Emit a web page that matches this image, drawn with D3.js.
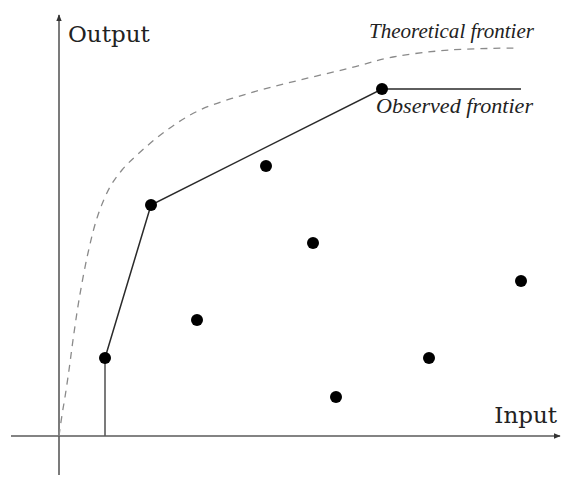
<!DOCTYPE html>
<html>
<head>
<meta charset="utf-8">
<script src="https://cdn.jsdelivr.net/npm/d3@7"></script>
<style>
  html, body { margin: 0; padding: 0; background: #fff; }
  svg { display: block; }
</style>
</head>
<body>
<svg id="chart" width="563" height="477"></svg>
<script>
// Observed decision units (input, output)
const unitInput  = [0.92, 1.84, 4.14, 5.08, 2.76, 5.54, 7.40, 9.24, 6.46];
const unitOutput = [1.56, 4.62, 5.40, 3.86, 2.32, 0.78, 1.56, 3.10, 6.94];

// Piecewise-linear observed frontier
const observedInput  = [0.92, 0.92, 1.84, 6.46, 9.24];
const observedOutput = [0.00, 1.56, 4.62, 6.94, 6.94];

// Smooth theoretical frontier
const theoryInput  = [0, 0.06, 0.12, 0.20, 0.28, 0.40, 0.58, 0.78, 1.02, 1.26, 1.56, 2.16, 2.82, 3.82, 4.82, 5.82, 6.68, 7.82, 9.16];
const theoryOutput = [0, 0.42, 0.78, 1.32, 1.92, 2.72, 3.66, 4.42, 4.98, 5.32, 5.62, 6.12, 6.52, 6.86, 7.12, 7.36, 7.58, 7.72, 7.76];

const labels = {
  xAxis: "Input",
  yAxis: "Output",
  theory: "Theoretical frontier",
  observed: "Observed frontier"
};

const svg = d3.select("#chart");

const x = d3.scaleLinear().domain([0, 10]).range([59, 559]);
const y = d3.scaleLinear().domain([0, 8]).range([436, 36]);

// Axes with arrowheads
const defs = svg.append("defs");
defs.append("marker")
  .attr("id", "arrow")
  .attr("viewBox", "0 0 10 10")
  .attr("refX", 9).attr("refY", 5)
  .attr("markerWidth", 7).attr("markerHeight", 7)
  .attr("markerUnits", "userSpaceOnUse")
  .attr("orient", "auto")
  .append("path")
  .attr("d", "M0,1 L10,5 L0,9 Z")
  .attr("fill", "#333");

const axisColor = "#5a5a5a";
svg.append("line")
  .attr("x1", x(-0.96)).attr("y1", y(0))
  .attr("x2", x(10.02)).attr("y2", y(0))
  .attr("stroke", axisColor).attr("stroke-width", 1.6)
  .attr("marker-end", "url(#arrow)");
svg.append("line")
  .attr("x1", x(0)).attr("y1", y(-0.78))
  .attr("x2", x(0)).attr("y2", y(8.42))
  .attr("stroke", axisColor).attr("stroke-width", 1.6)
  .attr("marker-end", "url(#arrow)");

// Theoretical frontier (dashed)
const theoryPts = theoryInput.map((d, i) => [d, theoryOutput[i]]);
svg.append("path")
  .datum(theoryPts)
  .attr("fill", "none")
  .attr("stroke", "#8a8a8a")
  .attr("stroke-width", 1.3)
  .attr("stroke-dasharray", "7,6")
  .attr("d", d3.line().x(d => x(d[0])).y(d => y(d[1])).curve(d3.curveCatmullRom.alpha(0.5)));

// Observed frontier
const obsPts = observedInput.map((d, i) => [d, observedOutput[i]]);
svg.append("path")
  .datum(obsPts.slice(0, 2))
  .attr("fill", "none")
  .attr("stroke", "#5a5a5a")
  .attr("stroke-width", 1.6)
  .attr("d", d3.line().x(d => x(d[0])).y(d => y(d[1])));
svg.append("path")
  .datum(obsPts.slice(1))
  .attr("fill", "none")
  .attr("stroke", "#2a2a2a")
  .attr("stroke-width", 1.5)
  .attr("d", d3.line().x(d => x(d[0])).y(d => y(d[1])));

// Units
svg.selectAll("circle.unit")
  .data(unitInput.map((d, i) => [d, unitOutput[i]]))
  .join("circle")
  .attr("class", "unit")
  .attr("cx", d => x(d[0]))
  .attr("cy", d => y(d[1]))
  .attr("r", 6)
  .attr("fill", "#000");

// Labels
svg.append("text")
  .attr("x", 68).attr("y", 42)
  .attr("font-family", "DejaVu Serif")
  .attr("font-size", 23)
  .attr("fill", "#222")
  .text(labels.yAxis);
svg.append("text")
  .attr("x", 557).attr("y", 423)
  .attr("text-anchor", "end")
  .attr("font-family", "DejaVu Serif")
  .attr("font-size", 23)
  .attr("fill", "#222")
  .text(labels.xAxis);
svg.append("text")
  .attr("x", 369).attr("y", 38)
  .attr("font-family", "Liberation Serif")
  .attr("font-style", "italic")
  .attr("font-size", 20)
  .attr("textLength", 165)
  .attr("lengthAdjust", "spacingAndGlyphs")
  .attr("fill", "#222")
  .text(labels.theory);
svg.append("text")
  .attr("x", 376).attr("y", 113)
  .attr("font-family", "Liberation Serif")
  .attr("font-style", "italic")
  .attr("font-size", 20)
  .attr("textLength", 157)
  .attr("lengthAdjust", "spacingAndGlyphs")
  .attr("fill", "#222")
  .text(labels.observed);
</script>
</body>
</html>
